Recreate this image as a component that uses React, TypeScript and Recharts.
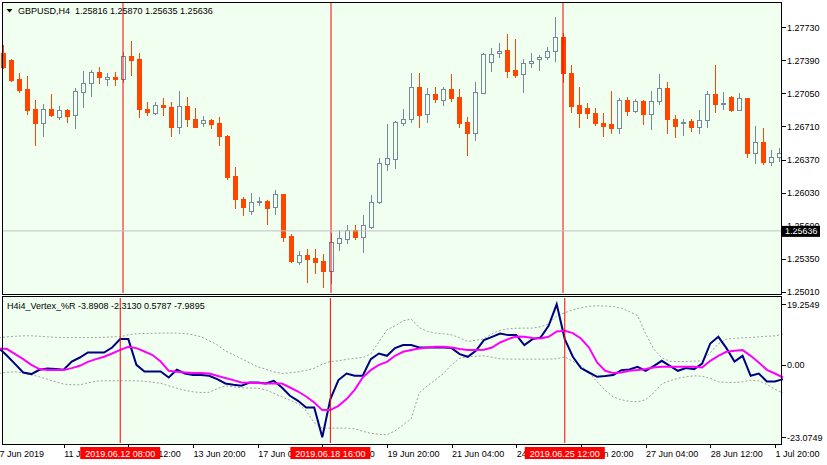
import React from 'react';
import { ComposedChart, Bar, Line, XAxis, YAxis, ReferenceLine } from 'recharts';

// GBPUSD H4, one entry per bar from 7 Jun 2019 20:00 onwards
const opens = [
  1.27466, 1.27394, 1.27198, 1.27095, 1.2689, 1.26749, 1.2689, 1.2681, 1.26879, 1.26825,
  1.27068, 1.27154, 1.27273, 1.27201, 1.27222, 1.27201, 1.27435, 1.27404, 1.2689, 1.26845,
  1.26931, 1.26907, 1.26701, 1.2692, 1.26787, 1.26742, 1.26776, 1.26746, 1.26612, 1.262,
  1.25964, 1.25843, 1.25936, 1.25943, 1.25884, 1.26015, 1.25583, 1.25319, 1.25385, 1.25357,
  1.25326, 1.25226, 1.25514, 1.25555, 1.25645, 1.25576, 1.25679, 1.25936, 1.26324, 1.26378,
  1.26749, 1.26784, 1.27113, 1.26835, 1.27041, 1.26979, 1.27092, 1.2701, 1.26753, 1.2664,
  1.27057, 1.2737, 1.27463, 1.27496, 1.27291, 1.27247, 1.2736, 1.27407, 1.27421, 1.27489,
  1.2763, 1.27263, 1.26931, 1.26903, 1.26851, 1.26749, 1.26735, 1.26691, 1.26982, 1.26869,
  1.26972, 1.26835, 1.26972, 1.27103, 1.26784, 1.26749, 1.26766, 1.26707, 1.26776, 1.27041,
  1.26938, 1.27016, 1.26879, 1.26999, 1.26434, 1.26553, 1.26347, 1.26399,
];
const highs = [
  1.27548, 1.27404, 1.2726, 1.27229, 1.26982, 1.26941, 1.27044, 1.2692, 1.2689, 1.27103,
  1.27284, 1.27291, 1.27325, 1.27263, 1.27273, 1.27479, 1.27592, 1.27463, 1.26962, 1.26962,
  1.27003, 1.26962, 1.27075, 1.27016, 1.269, 1.26818, 1.26787, 1.26807, 1.26622, 1.26293,
  1.25984, 1.26025, 1.25981, 1.25953, 1.26056, 1.2602, 1.25601, 1.25429, 1.25449, 1.25449,
  1.25398, 1.25611, 1.25645, 1.25696, 1.25696, 1.25799, 1.26005, 1.26382, 1.26735, 1.26766,
  1.2689, 1.27257, 1.27257, 1.27103, 1.27113, 1.27113, 1.2725, 1.27092, 1.26804, 1.27164,
  1.27469, 1.27514, 1.27565, 1.27661, 1.27607, 1.27401, 1.27463, 1.27445, 1.2753, 1.27833,
  1.27671, 1.27342, 1.27119, 1.26954, 1.26903, 1.26845, 1.27078, 1.27006, 1.27016, 1.26992,
  1.26982, 1.27078, 1.2725, 1.2717, 1.26828, 1.26787, 1.26787, 1.26879, 1.27078, 1.27342,
  1.27068, 1.27023, 1.27051, 1.26999, 1.26715, 1.26697, 1.26468, 1.26485,
];
const lows = [
  1.27311, 1.27178, 1.27064, 1.26838, 1.26519, 1.26612, 1.26818, 1.2679, 1.26759, 1.26697,
  1.26913, 1.27023, 1.27154, 1.27133, 1.27136, 1.2717, 1.27239, 1.2681, 1.26828, 1.26835,
  1.26828, 1.26612, 1.26646, 1.26715, 1.26704, 1.26715, 1.26697, 1.26519, 1.26166, 1.25868,
  1.25799, 1.25809, 1.25902, 1.25706, 1.25809, 1.25535, 1.25319, 1.25295, 1.25113, 1.25206,
  1.25062, 1.25097, 1.25439, 1.25514, 1.25555, 1.25422, 1.25662, 1.2592, 1.26262, 1.26286,
  1.26725, 1.26759, 1.26707, 1.26759, 1.26965, 1.26931, 1.26975, 1.26707, 1.26416, 1.26571,
  1.27051, 1.27284, 1.27428, 1.27222, 1.27222, 1.27068, 1.27325, 1.27291, 1.27401, 1.27386,
  1.2717, 1.26862, 1.26707, 1.26794, 1.26725, 1.26612, 1.2664, 1.2664, 1.26828, 1.26856,
  1.26735, 1.26681, 1.26938, 1.2664, 1.26605, 1.26622, 1.26663, 1.26646, 1.26701, 1.26862,
  1.26886, 1.26872, 1.26879, 1.26399, 1.26337, 1.26321, 1.26314, 1.26358,
];
const closes = [
  1.27322, 1.27188, 1.27085, 1.26879, 1.26749, 1.26886, 1.26828, 1.26879, 1.26821, 1.27078,
  1.27154, 1.27273, 1.27222, 1.27216, 1.27198, 1.27435, 1.27394, 1.26886, 1.26862, 1.26931,
  1.26907, 1.26701, 1.2692, 1.2679, 1.26707, 1.26773, 1.26738, 1.26615, 1.26193, 1.25961,
  1.25878, 1.2593, 1.25941, 1.25874, 1.26012, 1.25576, 1.25329, 1.25385, 1.2535, 1.25319,
  1.25226, 1.25518, 1.25559, 1.25645, 1.25573, 1.25693, 1.25933, 1.26331, 1.26382, 1.26753,
  1.26784, 1.27113, 1.26828, 1.27041, 1.26989, 1.27092, 1.27006, 1.26749, 1.2664, 1.27061,
  1.27455, 1.27455, 1.27489, 1.27284, 1.27242, 1.2736, 1.2738, 1.27421, 1.27489, 1.27627,
  1.27257, 1.2692, 1.26851, 1.26845, 1.26742, 1.26718, 1.26691, 1.26982, 1.26872, 1.26972,
  1.26835, 1.26972, 1.27103, 1.26784, 1.26718, 1.26759, 1.26707, 1.26776, 1.27041, 1.26941,
  1.26954, 1.26879, 1.26999, 1.26434, 1.26553, 1.26347, 1.26393, 1.2644,
];

// H4i4_Vertex_%R buffers
const vertex = [
  5.31, 2.86, 0.22, -2.45, -2.96, -1.59, -1.18, -1.37, -1.59, 1.05,
  2.32, 3.91, 3.91, 3.91, 5.51, 8.18, 8.18, 0, -2.13, -2.13,
  -2.13, -4.04, -1.59, -2.77, -3.28, -3.28, -3.5, -4.55, -5.95, -6.37,
  -6.68, -5.63, -5.63, -5.95, -5.09, -7.22, -9.87, -11.46, -13.59, -13.59,
  -23.07, -10.92, -4.87, -2.77, -3.5, -3.5, 1.81, 3.6, 2.86, 5.31,
  6.27, 6.27, 5.51, 5.51, 5.51, 5.51, 5.31, 3.41, 2.55, 4.46,
  7.86, 8.91, 9.96, 9.45, 9.45, 6.27, 8.18, 8.69, 12.41, 19.25,
  8.18, 2.55, -1.05, -2.45, -3.82, -3.6, -3.28, -1.69, -1.5, -0.64,
  -1.91, -0.41, 1.27, -0.32, -1.91, -1.05, -1.37, 0.41, 6.78, 8.91,
  5.31, 1.05, 2.86, -3.5, -2.77, -5.32, -5.32, -4.55,
];
const signal = [
  5.19, 5.0, 3.41, 1.81, 0, -1.37, -1.69, -1.69, -1.69, -1.05,
  -0.32, 0.95, 1.81, 2.55, 3.6, 4.77, 5.73, 5.31, 4.23, 3.09,
  1.05, -1.91, -2.23, -2.45, -2.64, -2.64, -2.77, -3.5, -4.23, -4.87,
  -5.63, -5.73, -5.82, -5.95, -5.95, -5.95, -7.22, -8.5, -10.09, -12.0,
  -14.42, -14.42, -13.05, -10.92, -7.96, -4.04, -1.69, 0, 0.95, 2.86,
  4.14, 4.68, 5.19, 5.51, 5.73, 5.73, 5.51, 5.0, 4.68, 4.68,
  4.77, 5.51, 7.1, 8.18, 9.01, 8.91, 8.5, 8.37, 8.91, 10.6,
  10.82, 10.09, 8.37, 5.51, 0.73, -1.91, -2.64, -2.45, -1.91, -1.69,
  -1.37, -0.86, -0.64, -0.64, -0.64, -0.64, -0.64, -0.86, 1.27, 2.86,
  4.14, 4.46, 4.68, 2.86, 0.73, -1.59, -2.77, -4.04,
];
const upperBand = [
  8.59, 8.91, 9.07, 9.23, 9.23, 9.07, 8.91, 8.75, 8.69, 8.69,
  8.69, 8.69, 8.69, 8.75, 8.91, 8.91, 9.55, 9.87, 9.96, 10.03,
  10.09, 10.09, 10.09, 9.96, 9.55, 8.91, 7.64, 6.37, 4.46, 3.18,
  1.91, 0.64, -0.64, -1.37, -2.23, -2.77, -2.55, -2.23, -1.75, -1.11,
  0.22, 1.05, 1.27, 1.75, 2.07, 2.32, 3.5, 7.32, 11.14, 12.41,
  14.0, 14.55, 11.78, 10.66, 10.09, 9.87, 9.55, 8.59, 7.42, 7.8,
  8.27, 9.87, 10.98, 11.46, 11.62, 11.68, 11.68, 12.09, 12.95, 15.6,
  16.55, 17.5, 18.14, 18.62, 18.78, 18.68, 18.56, 17.98, 16.96, 15.69,
  9.87, 5.09, 2.23, 1.11, 1.05, 1.05, 1.18, 1.27, 3.82, 6.68,
  8.18, 8.37, 8.59, 8.69, 8.91, 9.07, 9.23, 9.71,
];
const lowerBand = [
  -2.77, -2.39, -2.23, -2.55, -3.18, -3.82, -4.61, -5.41, -6.14, -6.37,
  -6.37, -5.73, -5.19, -5.09, -5.09, -5.09, -5.09, -5.09, -5.25, -5.57,
  -5.89, -6.68, -7.42, -8.12, -8.59, -8.82, -8.75, -7.64, -6.68, -7.0,
  -7.32, -7.42, -7.42, -7.96, -9.07, -10.18, -11.3, -12.41, -14.64, -18.46,
  -20.15, -20.15, -20.15, -20.15, -20.37, -21.16, -21.8, -22.12, -22.28, -21.01,
  -19.1, -17.19, -8.91, -6.68, -4.77, -2.71, 0, 2.07, 2.55, 2.71,
  2.86, 2.39, 1.91, 1.81, 1.81, 1.81, 1.81, 1.81, 1.81, 1.91,
  2.55, 1.11, -0.32, -2.45, -5.41, -8.12, -10.18, -11.14, -11.62, -11.78,
  -11.14, -8.91, -6.05, -5.09, -4.3, -3.82, -3.5, -3.66, -4.3, -5.41,
  -5.63, -5.63, -5.41, -4.93, -5.09, -6.21, -7.8, -8.91,
];

const priceTicks = [1.2501, 1.2535, 1.2569, 1.2603, 1.2637, 1.2671, 1.2705, 1.2739, 1.2773];
const vertexTicks = [19.2549, 0, -23.0749];
// one label every 8 bars
const dateLabels = [
  '7 Jun 2019', '11 Jun 04:00', '12 Jun 12:00', '13 Jun 20:00', '17 Jun 04:00', '18 Jun 12:00',
  '19 Jun 20:00', '21 Jun 04:00', '24 Jun 12:00', '25 Jun 20:00', '27 Jun 04:00', '28 Jun 12:00',
  '1 Jul 20:00',
];
const markerBars = [15, 41, 70];
const markerTexts = ['2019.06.12 08:00', '2019.06.18 16:00', '2019.06.25 12:00'];
const bid = 1.25636;
const headerText = 'GBPUSD,H4  1.25816 1.25870 1.25635 1.25636';
const vertexText = 'H4i4_Vertex_%R -3.8908 -2.3130 0.5787 -7.9895';

const BG = '#F0FFF0';
const BULL = '#778899';
const BEAR = '#FF4500';
const FONT = "'Liberation Sans', Arial, sans-serif";

const bars = opens.map((open, i) => ({
  i,
  open,
  high: highs[i],
  low: lows[i],
  close: closes[i],
  vertex: vertex[i],
  signal: signal[i],
  upper: upperBand[i],
  lower: lowerBand[i],
}));

function Candle(props: any) {
  const { x, y, width, height, payload } = props;
  if (!payload) return null;
  const { open, high, low, close } = payload;
  const top = Math.min(y, y + height);
  const span = Math.abs(height);
  const py = (p: number) => top + ((high - p) / (high - low)) * span;
  const cx = Math.round(x + width / 2);
  const up = close >= open;
  const color = up ? BULL : BEAR;
  const bTop = Math.round(py(Math.max(open, close)));
  const bBot = Math.round(py(Math.min(open, close)));
  const hi = Math.round(top);
  const lo = Math.round(top + span);
  let body;
  if (bBot - bTop < 1) {
    body = <line x1={cx - 2} x2={cx + 3} y1={bTop + 0.5} y2={bTop + 0.5} stroke={color} />;
  } else if (up) {
    body = <rect x={cx - 1.5} y={bTop + 0.5} width={4} height={bBot - bTop} fill={BG} stroke={color} />;
  } else {
    body = <rect x={cx - 2} y={bTop} width={5} height={bBot - bTop + 1} fill={color} />;
  }
  return (
    <g>
      <line x1={cx + 0.5} x2={cx + 0.5} y1={hi} y2={lo + 1} stroke={color} />
      {body}
    </g>
  );
}

function PriceTick(props: any) {
  const { x, y, payload } = props;
  const yy = Math.round(y) + 0.5;
  return (
    <g>
      <line x1={x + 1} x2={x + 5} y1={yy} y2={yy} stroke="#000" />
      <text x={x + 6} y={y + 3.3} fontSize={9} fontFamily={FONT} fill="#000">
        {Number(payload.value).toFixed(5)}
      </text>
    </g>
  );
}

function LevelTick(props: any) {
  const { x, y, payload } = props;
  const v = Number(payload.value);
  const yy = Math.round(y) + 0.5;
  return (
    <g>
      <line x1={x + 1} x2={x + 5} y1={yy} y2={yy} stroke="#000" />
      <text x={x + 6} y={y + 3.3} fontSize={9} fontFamily={FONT} fill="#000">
        {v === 0 ? '0.00' : String(v)}
      </text>
    </g>
  );
}

function DateTick(props: any) {
  const { x, y, payload } = props;
  const label = dateLabels[Math.round(Number(payload.value) / 8)];
  const xx = Math.round(x) + 0.5;
  return (
    <g>
      <line x1={xx} x2={xx} y1={y + 1} y2={y + 5} stroke="#000" />
      <text x={x + 0.5} y={y + 13.5} fontSize={9} fontFamily={FONT} fill="#000">
        {label}
      </text>
    </g>
  );
}

function BidFlag(props: any) {
  const { viewBox } = props;
  if (!viewBox) return null;
  const x = viewBox.x + viewBox.width;
  const y = viewBox.y;
  return (
    <g>
      <rect x={x + 1} y={y - 5} width={38} height={11} fill="#000" />
      <text x={x + 4} y={y + 3.5} fontSize={9} fontFamily={FONT} fill="#fff">
        {bid.toFixed(5)}
      </text>
    </g>
  );
}

function DateFlag(props: any) {
  const { viewBox, text } = props;
  if (!viewBox) return null;
  const x = viewBox.x;
  const bottom = viewBox.y + viewBox.height;
  return (
    <g>
      <rect x={x - 40} y={bottom + 4} width={80} height={12} fill="#FF0000" />
      <text x={x} y={bottom + 13.5} fontSize={9} fontFamily={FONT} fill="#fff" textAnchor="middle">
        {text}
      </text>
    </g>
  );
}

export default function App() {
  return (
    <div style={{ position: 'absolute', left: 0, top: 0, width: 827, height: 465, background: '#fff', overflow: 'hidden' }}>
      {/* panel backgrounds */}
      <div style={{ position: 'absolute', left: 2, top: 2, width: 780, height: 293, background: BG }} />
      <div style={{ position: 'absolute', left: 2, top: 296, width: 780, height: 149, background: BG }} />

      {/* price panel */}
      <div style={{ position: 'absolute', left: 0, top: 0 }}>
        <ComposedChart width={827} height={298} data={bars} margin={{ top: 3, right: 0, bottom: 5, left: 2 }}>
          <XAxis dataKey="i" hide padding={{ left: -3, right: -2 }} />
          <YAxis
            orientation="right"
            width={46}
            domain={[1.24997, 1.2798]}
            allowDataOverflow
            ticks={priceTicks}
            interval={0}
            tick={<PriceTick />}
            tickLine={false}
            axisLine={false}
            tickSize={0}
            tickMargin={0}
          />
          <Bar dataKey={(d: any) => [d.low, d.high]} shape={<Candle />} barSize={6} isAnimationActive={false} />
          {markerBars.map((b) => (
            <ReferenceLine key={b} x={b} stroke="#FF0000" />
          ))}
          <ReferenceLine y={bid} stroke="#C0C0C0" label={<BidFlag />} />
        </ComposedChart>
      </div>

      {/* indicator panel */}
      <div style={{ position: 'absolute', left: 0, top: 296 }}>
        <ComposedChart width={827} height={169} data={bars} margin={{ top: 2, right: 0, bottom: 0, left: 2 }}>
          <XAxis
            dataKey="i"
            height={22}
            padding={{ left: -3, right: -2 }}
            interval={7}
            tick={<DateTick />}
            tickLine={false}
            axisLine={false}
            tickSize={0}
            tickMargin={0}
          />
          <YAxis
            orientation="right"
            width={46}
            domain={[-24.889, 21.26]}
            allowDataOverflow
            ticks={vertexTicks}
            interval={0}
            tick={<LevelTick />}
            tickLine={false}
            axisLine={false}
            tickSize={0}
            tickMargin={0}
          />
          <Line dataKey="upper" stroke="#A0A0A0" strokeWidth={1} strokeDasharray="2 2" dot={false} isAnimationActive={false} />
          <Line dataKey="lower" stroke="#A0A0A0" strokeWidth={1} strokeDasharray="2 2" dot={false} isAnimationActive={false} />
          <Line dataKey="vertex" stroke="#000080" strokeWidth={2} dot={false} isAnimationActive={false} />
          <Line dataKey="signal" stroke="#FF00FF" strokeWidth={2} dot={false} isAnimationActive={false} />
          {markerBars.map((b) => (
            <ReferenceLine key={b} x={b} stroke="#FF0000" />
          ))}
        </ComposedChart>
      </div>

      {/* time flags, drawn above the date labels */}
      <div style={{ position: 'absolute', left: 0, top: 296, pointerEvents: 'none' }}>
        <ComposedChart width={827} height={169} data={bars} margin={{ top: 2, right: 46, bottom: 22, left: 2 }}>
          <XAxis dataKey="i" hide padding={{ left: -3, right: -2 }} />
          <YAxis hide domain={[-24.889, 21.26]} allowDataOverflow />
          {markerBars.map((b, k) => (
            <ReferenceLine key={b} x={b} stroke="#FF0000" strokeOpacity={0} label={<DateFlag text={markerTexts[k]} />} />
          ))}
        </ComposedChart>
      </div>

      {/* panel frames */}
      <div style={{ position: 'absolute', left: 2, top: 2, width: 780, height: 293, border: '1px solid #000', boxSizing: 'border-box', pointerEvents: 'none' }} />
      <div style={{ position: 'absolute', left: 2, top: 296, width: 780, height: 149, border: '1px solid #000', boxSizing: 'border-box', pointerEvents: 'none' }} />

      {/* titles */}
      <svg width={827} height={465} style={{ position: 'absolute', left: 0, top: 0, pointerEvents: 'none' }}>
        <polygon points="6.5,9 12.5,9 9.5,12.5" fill="#000" />
        <text x={18} y={14} fontSize={9} fontFamily={FONT} fill="#000" style={{ whiteSpace: 'pre' }}>
          {headerText}
        </text>
        <text x={7} y={308.5} fontSize={9} fontFamily={FONT} fill="#000">
          {vertexText}
        </text>
      </svg>
    </div>
  );
}
